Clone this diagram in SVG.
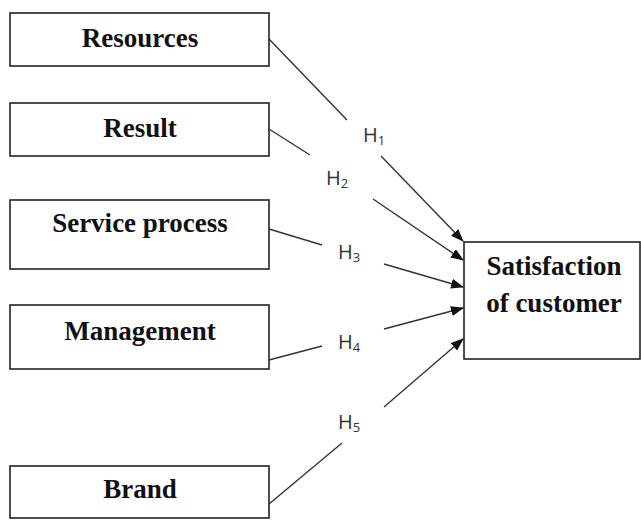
<svg xmlns="http://www.w3.org/2000/svg" width="641" height="520" viewBox="0 0 641 520">
<style>
.box{fill:#fff;stroke:#222;stroke-width:1.6}
.t{font-family:"Liberation Serif","Times New Roman",serif;font-weight:bold;font-size:27px;fill:#111;text-anchor:middle}
.h{font-family:"Open Sans","Noto Sans",sans-serif;font-size:20px;fill:#333}
.s{font-size:13px}
.c{stroke:#333;stroke-width:1.4;fill:none}
</style>
<defs>
<marker id="ah" markerWidth="13" markerHeight="10" refX="12" refY="5" orient="auto" markerUnits="userSpaceOnUse">
<path d="M0,0 L13,5 L0,10 Z" fill="#111"/>
</marker>
</defs>
<rect width="641" height="520" fill="#fff"/>
<g id="n-resources"><rect class="box" x="10" y="13" width="259" height="53"/><text class="t" x="140" y="47">Resources</text></g>
<g id="n-result"><rect class="box" x="10" y="103" width="259" height="53"/><text class="t" x="140" y="137">Result</text></g>
<g id="n-service"><rect class="box" x="10" y="200" width="259" height="69"/><text class="t" x="140" y="232">Service process</text></g>
<g id="n-management"><rect class="box" x="10" y="305" width="259" height="64"/><text class="t" x="140" y="340">Management</text></g>
<g id="n-brand"><rect class="box" x="10" y="466" width="259" height="52"/><text class="t" x="140" y="498">Brand</text></g>
<g id="n-satisfaction"><rect class="box" x="464" y="242" width="176" height="117"/><text class="t" x="554" y="275">Satisfaction</text><text class="t" x="554" y="312">of customer</text></g>
<g id="connectors">
<line class="c" x1="269" y1="39" x2="347" y2="120"/>
<line class="c" x1="381" y1="156" x2="463" y2="241" marker-end="url(#ah)"/>
<line class="c" x1="269" y1="129" x2="310" y2="155"/>
<line class="c" x1="373" y1="199" x2="463" y2="260" marker-end="url(#ah)"/>
<line class="c" x1="269" y1="229" x2="322" y2="245"/>
<line class="c" x1="384" y1="264" x2="463" y2="287" marker-end="url(#ah)"/>
<line class="c" x1="269" y1="360" x2="322" y2="346"/>
<line class="c" x1="384" y1="329" x2="463" y2="308" marker-end="url(#ah)"/>
<line class="c" x1="269" y1="504" x2="342" y2="443"/>
<line class="c" x1="384" y1="407" x2="463" y2="339" marker-end="url(#ah)"/>
</g>
<g id="labels">
<text class="h" x="363" y="142">H<tspan class="s" dy="3">1</tspan></text>
<text class="h" x="326" y="185">H<tspan class="s" dy="3">2</tspan></text>
<text class="h" x="338" y="259">H<tspan class="s" dy="3">3</tspan></text>
<text class="h" x="338" y="349">H<tspan class="s" dy="3">4</tspan></text>
<text class="h" x="338" y="429">H<tspan class="s" dy="3">5</tspan></text>
</g>
</svg>
